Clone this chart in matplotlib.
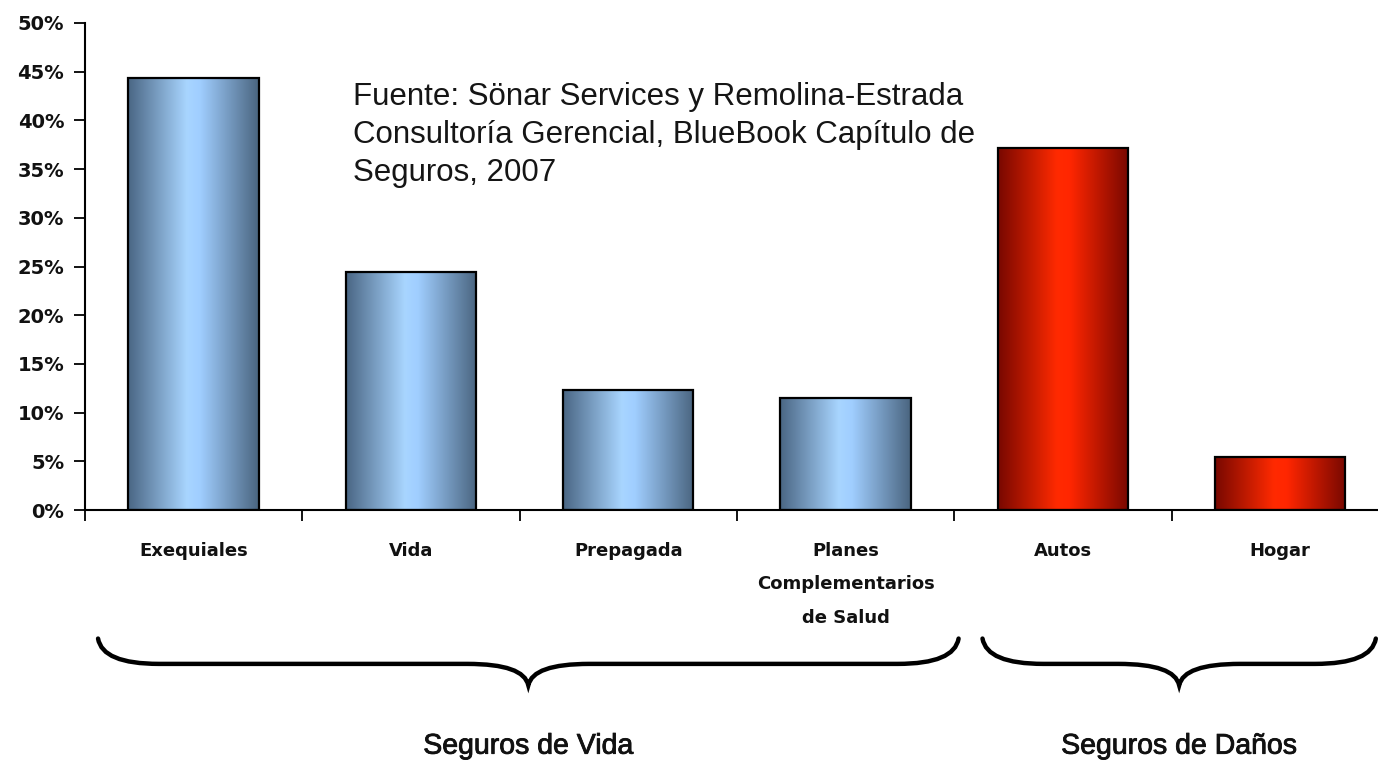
import numpy as np
import matplotlib
matplotlib.use("Agg")
import matplotlib.pyplot as plt
import matplotlib.patheffects as pe
from matplotlib.colors import LinearSegmentedColormap
from matplotlib.path import Path
from matplotlib.patches import PathPatch

categories = ["Exequiales", "Vida", "Prepagada", "Planes\nComplementarios\nde Salud", "Autos", "Hogar"]
values = [44.4, 24.4, 12.3, 11.5, 37.2, 5.4]
groups = ["vida", "vida", "vida", "vida", "danos", "danos"]
group_labels = ["Seguros de Vida", "Seguros de Daños"]
group_spans = [(-0.44, 3.52), (3.63, 5.44)]
yticks = [0, 5, 10, 15, 20, 25, 30, 35, 40, 45, 50]
source = "Fuente: Sönar Services y Remolina-Estrada\nConsultoría Gerencial, BlueBook Capítulo de\nSeguros, 2007"

plt.rcParams['font.family'] = ["Liberation Sans", "DejaVu Sans"]
tickfont = ["DejaVu Sans"]

fig = plt.figure(figsize=(13.78, 7.62), dpi=100)
ax = fig.add_axes([85/1378, 1-510/762, 1-85/1378, 487/762])

cmaps = {
    "vida": LinearSegmentedColormap.from_list("b", [(0, "#4a6684"), (0.45, "#a8d5ff"), (0.55, "#a0ceff"), (1, "#4a6580")]),
    "danos": LinearSegmentedColormap.from_list("r", [(0, "#780800"), (0.45, "#ff2a00"), (0.55, "#ff2600"), (1, "#780800")]),
}
x = np.arange(len(categories))
width = 0.6
bars = ax.bar(x, values, width=width, color="none", edgecolor="black", linewidth=1.6, zorder=3)
grad = np.linspace(0, 1, 256).reshape(1, -1)
for b, g in zip(bars, groups):
    x0, w, h = b.get_x(), b.get_width(), b.get_height()
    im = ax.imshow(grad, cmap=cmaps[g], aspect="auto", extent=[x0, x0 + w, 0, h], zorder=2, interpolation="bilinear")
    im.set_clip_path(b)

ax.set_xlim(-0.5, 5.45)
ax.set_ylim(0, 50)
ax.set_yticks(yticks)
ax.set_yticklabels([f"{t}%" for t in yticks], fontfamily=tickfont, fontweight="bold", fontsize=14, color="#111111")
ax.set_xticks(x)
ax.set_xticklabels(categories, fontfamily=tickfont, fontweight="bold", fontsize=13, linespacing=2.1,
                   va="top", color="#111111")
ax.tick_params(axis="x", which="major", length=0, pad=23)
ax.set_xticks(np.arange(-0.5, 5.5, 1.0), minor=True)
ax.tick_params(axis="x", which="minor", length=8, width=1.3, direction="out")
ax.tick_params(axis="y", length=8, width=1.3, direction="out", pad=7)
for s in ["top", "right"]:
    ax.spines[s].set_visible(False)
for s in ["left", "bottom"]:
    ax.spines[s].set_linewidth(1.5)

ax.text(0.735, 43.9, source, fontsize=22.5, va="top", ha="left", linespacing=1.33, color="#151515")

# braces
for (a, b), lab in zip(group_spans, group_labels):
    mid = (a + b) / 2
    y_end, y_line, y_tip = -13.2, -15.8, -18.0
    r = 0.28
    verts = [(a, y_end), (a + 0.02, y_line), (a + r, y_line),
             (mid - r, y_line), (mid - 0.02, y_line), (mid, y_tip),
             (mid + 0.02, y_line), (mid + r, y_line),
             (b - r, y_line), (b - 0.02, y_line), (b, y_end)]
    codes = [Path.MOVETO, Path.CURVE3, Path.CURVE3,
             Path.LINETO, Path.CURVE3, Path.CURVE3,
             Path.CURVE3, Path.CURVE3,
             Path.LINETO, Path.CURVE3, Path.CURVE3]
    pp = PathPatch(Path(verts, codes), fill=False, lw=3.2, color="black", clip_on=False, capstyle="round")
    ax.add_patch(pp)
    ax.text(mid, -24.3, lab, ha="center", va="center", fontsize=20.5, clip_on=False, color="#111111",
            path_effects=[pe.withStroke(linewidth=0.6, foreground="#111111")])

fig.savefig("out.png", dpi=100)
